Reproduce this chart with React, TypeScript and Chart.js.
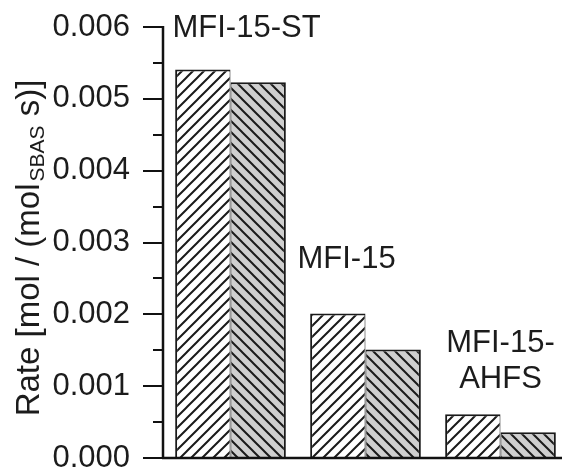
import React, { useEffect, useRef } from 'react';
import { Chart, registerables } from 'chart.js';

Chart.register(...registerables);

const categories: string[][] = [['MFI-15-ST'], ['MFI-15'], ['MFI-15-', 'AHFS']];
const seriesA: number[] = [0.00541, 0.00201, 0.00061];
const seriesB: number[] = [0.00523, 0.00151, 0.00036];
const yTickMin = 0;
const yTickMax = 0.006;
const yTickStep = 0.001;
const yMinorStep = 0.0005;
const titleMain = 'Rate [mol / (mol';
const titleSub = 'SBAS';
const titleEnd = ' s)]';

const FONT = '"Liberation Sans", Arial, Helvetica, sans-serif';
const TEXT = '#1c1c1c';

function makePattern(bg: string, forward: boolean): CanvasPattern | string {
  const s = 11;
  const c = document.createElement('canvas');
  c.width = s;
  c.height = s;
  const g = c.getContext('2d');
  if (!g) return bg;
  g.fillStyle = bg;
  g.fillRect(0, 0, s, s);
  g.strokeStyle = '#1a1a1a';
  g.lineWidth = 2;
  g.lineCap = 'square';
  g.beginPath();
  if (forward) {
    g.moveTo(-1, s + 1); g.lineTo(s + 1, -1);
    g.moveTo(-2, 2); g.lineTo(2, -2);
    g.moveTo(s - 2, s + 2); g.lineTo(s + 2, s - 2);
  } else {
    g.moveTo(-1, -1); g.lineTo(s + 1, s + 1);
    g.moveTo(-2, s - 2); g.lineTo(2, s + 2);
    g.moveTo(s - 2, -2); g.lineTo(s + 2, 2);
  }
  g.stroke();
  const p = g.createPattern(c, 'repeat');
  return p || bg;
}

const decorPlugin = {
  id: 'decor',
  afterDraw(chart: any) {
    const ctx = chart.ctx as CanvasRenderingContext2D;
    const area = chart.chartArea;
    const ys = chart.scales.y;
    const xs = chart.scales.x;
    ctx.save();
    ctx.strokeStyle = '#111';
    // axes
    ctx.lineWidth = 2.5;
    ctx.beginPath();
    ctx.moveTo(area.left, ys.getPixelForValue(yTickMax) - 1);
    ctx.lineTo(area.left, area.bottom);
    ctx.moveTo(area.left - 1, area.bottom);
    ctx.lineTo(chart.width, area.bottom);
    ctx.stroke();
    // ticks
    ctx.lineWidth = 2;
    const n = Math.round((yTickMax - yTickMin) / yMinorStep);
    for (let i = 0; i <= n; i++) {
      const v = yTickMin + i * yMinorStep;
      const py = Math.round(ys.getPixelForValue(v));
      const len = i % 2 === 0 ? 20 : 10;
      ctx.beginPath();
      ctx.moveTo(area.left - len, py);
      ctx.lineTo(area.left, py);
      ctx.stroke();
    }
    // category annotations
    ctx.fillStyle = TEXT;
    ctx.font = `31px ${FONT}`;
    ctx.textBaseline = 'alphabetic';
    const anchors = [
      { dx: -58, v: 0.00586, align: 'left' },
      { dx: -68, v: 0.00265, align: 'left' },
      { dx: 0, v: 0.00147, align: 'center' },
    ];
    categories.forEach((lines, i) => {
      const a = anchors[i];
      const cx = xs.getPixelForValue(i) + a.dx;
      let by = ys.getPixelForValue(a.v);
      ctx.textAlign = a.align as CanvasTextAlign;
      lines.forEach((ln) => {
        ctx.fillText(ln, cx, by);
        by += 36;
      });
    });
    // y-axis title
    ctx.translate(39, 249);
    ctx.rotate(-Math.PI / 2);
    ctx.textAlign = 'left';
    const mainFont = `33px ${FONT}`;
    const subFont = `21px ${FONT}`;
    ctx.font = mainFont;
    const w1 = ctx.measureText(titleMain).width;
    const w3 = ctx.measureText(titleEnd).width;
    ctx.font = subFont;
    const w2 = ctx.measureText(titleSub).width;
    let x = -(w1 + w2 + w3) / 2;
    ctx.font = mainFont;
    ctx.fillText(titleMain, x, 0);
    x += w1;
    ctx.font = subFont;
    ctx.fillText(titleSub, x + 2, 5);
    x += w2 + 2;
    ctx.font = mainFont;
    ctx.fillText(titleEnd, x, 0);
    ctx.restore();
  },
};

export default function App() {
  const ref = useRef<HTMLCanvasElement>(null);
  useEffect(() => {
    if (!ref.current) return;
    const chart = new Chart(ref.current, {
      type: 'bar',
      data: {
        labels: categories.map((c) => c.join(' ')),
        datasets: [
          {
            data: seriesA,
            backgroundColor: makePattern('#ffffff', true) as any,
            borderColor: '#1a1a1a',
            borderWidth: { left: 2, top: 2, right: 1, bottom: 0 } as any,
            borderSkipped: false,
          },
          {
            data: seriesB,
            backgroundColor: makePattern('#cfcfcf', false) as any,
            borderColor: '#1a1a1a',
            borderWidth: { left: 1, top: 2, right: 2, bottom: 0 } as any,
            borderSkipped: false,
          },
        ],
      },
      options: {
        responsive: false,
        animation: false,
        layout: { padding: { left: 0, top: 27, right: 0, bottom: 12 } },
        plugins: { legend: { display: false }, tooltip: { enabled: false }, title: { display: false } },
        datasets: { bar: { barPercentage: 1, categoryPercentage: 0.82 } },
        scales: {
          x: {
            display: false,
            offset: true,
            grid: { display: false },
          },
          y: {
            min: yTickMin,
            max: yTickMax,
            grid: { display: false, drawTicks: false },
            border: { display: false },
            ticks: {
              stepSize: yTickStep,
              padding: 33,
              color: TEXT,
              font: { size: 31, family: FONT },
              callback: (v: any) => Number(v).toFixed(3),
            },
            afterFit: (s: any) => {
              s.width = 163;
              s.paddingTop = 0;
              s.paddingBottom = 0;
            },
          },
        },
      },
      plugins: [decorPlugin],
    });
    return () => chart.destroy();
  }, []);
  return (
    <div style={{ position: 'absolute', left: 0, top: 0, width: 562, height: 470, overflow: 'hidden', background: '#fff' }}>
      <canvas ref={ref} width={568} height={470} style={{ display: 'block' }} />
    </div>
  );
}
